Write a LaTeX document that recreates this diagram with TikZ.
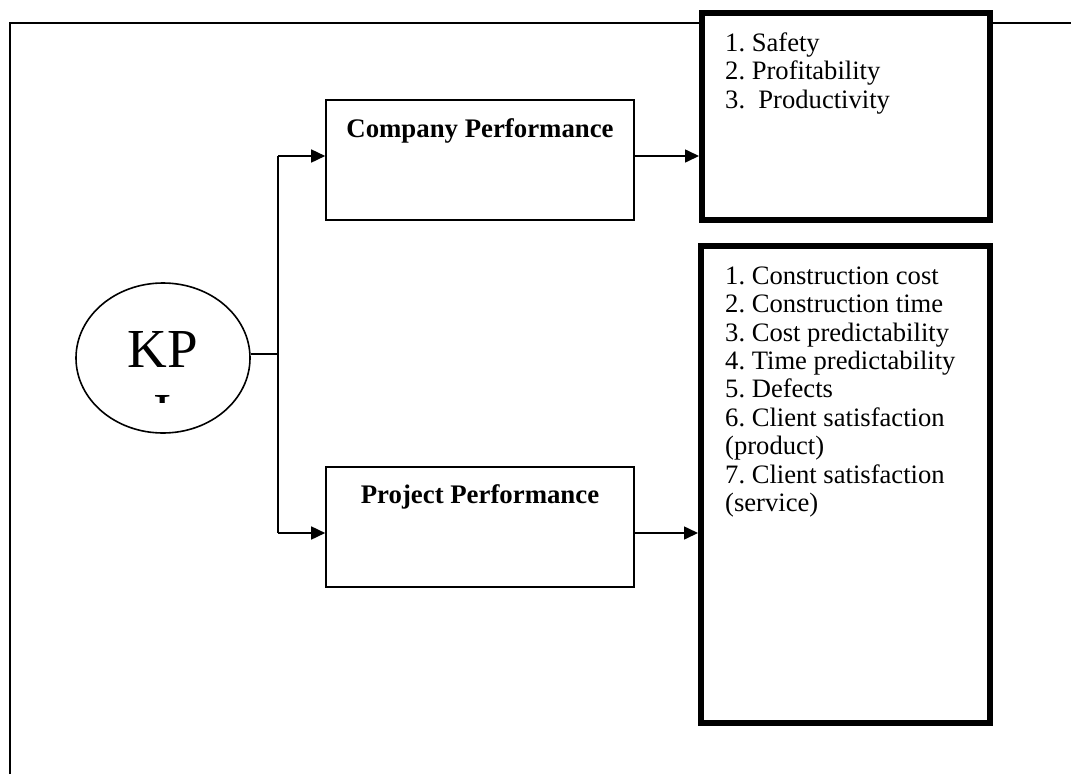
\documentclass[tikz,border=0pt]{standalone}
\usepackage{fontspec}
\setmainfont{Liberation Serif}
\usetikzlibrary{arrows.meta,shapes.geometric}
\frenchspacing
\begin{document}
\begin{tikzpicture}[x=1pt,y=-1pt,
  thin line/.style={line width=1.6pt},
  perfbox/.style={draw,line width=1.6pt,fill=white,minimum width=308pt,minimum height=120pt,inner sep=0pt},
  listbox/.style={draw,line width=6pt,fill=white,inner sep=0pt},
  arr/.style={line width=1.6pt,-{Triangle[length=14pt,width=13pt]}},
  listtext/.style={anchor=north west,align=left,inner sep=0pt,font=\fontsize{26.6}{28.4}\selectfont\frenchspacing},
  boldtext/.style={anchor=base,inner sep=0pt,font=\fontsize{26.8}{30}\selectfont\bfseries}]
\useasboundingbox (0,0) rectangle (1071,774);
\fill[white] (0,0) rectangle (1071,774);
% frame
\coordinate (f1) at (10,774);
\coordinate (f2) at (10,23);
\coordinate (f3) at (1071,23);
\draw[thin line] (f1) -- (f2) -- (f3);
% boxes
\node[perfbox] (company) at (480,160) {};
\node[perfbox] (project) at (480,527) {};
\node[listbox,minimum width=288pt,minimum height=207pt] (top) at (846,116.5) {};
\node[listbox,minimum width=289pt,minimum height=477pt] (bottom) at (845.5,484.5) {};
% labels
\node[boldtext] (companylabel) at (480,137) {Company Performance};
\node[boldtext] (projectlabel) at (480,503) {Project Performance};
\node[listtext] (toplist) at (725,32.5) {1. Safety\\2. Profitability\\3.\ \ Productivity};
\node[listtext] (bottomlist) at (725,266.5) {1. Construction cost\\2. Construction time\\3. Cost predictability\\4. Time predictability\\5. Defects\\6. Client satisfaction\\(product)\\7. Client satisfaction\\(service)};
% KPI ellipse
\node[draw,ellipse,line width=1.6pt,minimum width=174pt,minimum height=150pt,inner sep=0pt] (kpi) at (163,358) {};
\begin{scope}
  \clip (76,290) rectangle (250,402);
  \node[anchor=base,inner sep=0pt,font=\fontsize{55}{60}\selectfont] (kp) at (162.5,367) {KP};
  \node[anchor=base,inner sep=0pt,font=\fontsize{55}{60}\selectfont] (ki) at (163,431) {I};
\end{scope}
% connectors
\coordinate (j) at (278,354);
\coordinate (b1) at (278,156);
\coordinate (b2) at (278,533);
\draw[thin line] (kpi.east |- j) -- (j);
\draw[thin line] (b1) -- (b2);
\draw[arr] (b1) -- (b1 -| company.west);
\draw[arr] (b2) -- (b2 -| project.west);
\draw[arr] (b1 -| company.east) -- (b1 -| top.west);
\draw[arr] (b2 -| project.east) -- (b2 -| bottom.west);
\end{tikzpicture}
\end{document}
